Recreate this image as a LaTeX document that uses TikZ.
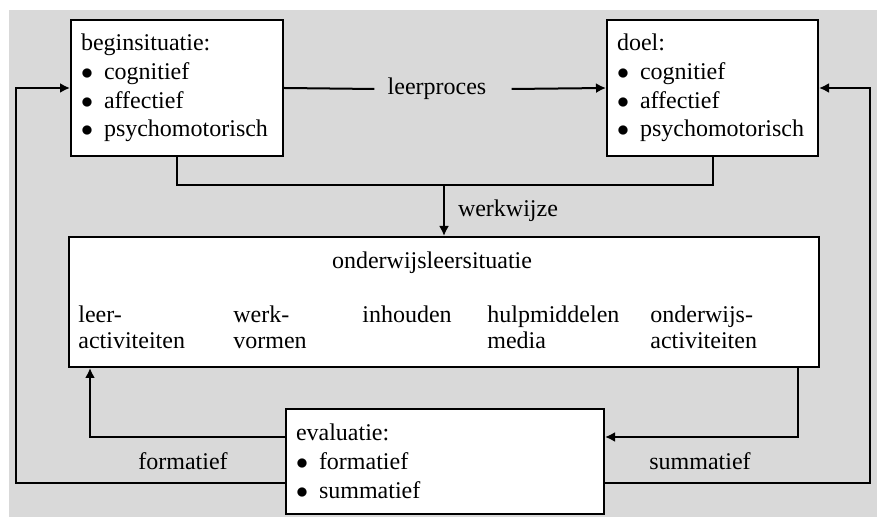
\documentclass[tikz,border=0pt]{standalone}
\usepackage{fontspec}
\setmainfont{Liberation Serif}
\usepackage{xcolor}
\usetikzlibrary{positioning,arrows.meta}
\definecolor{panel}{HTML}{D9D9D9}
\newcommand{\bul}{\makebox[11.5pt][l]{$\bullet$}}

\begin{document}
\begin{tikzpicture}[x=0.5pt, y=-0.5pt,
  box/.style={draw, fill=white, line width=1pt, align=left,
              inner xsep=5pt, inner ysep=0pt,
              font=\fontsize{12}{14.4}\selectfont},
  lbl/.style={inner sep=0pt, font=\fontsize{12}{14.4}\selectfont},
  col/.style={lbl, align=left, anchor=north west,
              font=\fontsize{12}{13}\selectfont},
  wire/.style={line width=1pt},
  arrow/.style={->, >={Latex[length=5pt, width=5pt]}, line width=1pt}
]

% --- background ---
\useasboundingbox (0,0) rectangle (877,517);
\fill[panel] (9,10) rectangle (877,517);

% --- top row ---
\node[box, text width=96pt, minimum height=68pt] (begin) at (177,88)
  {beginsituatie:\\\bul cognitief\\\bul affectief\\\bul psychomotorisch};
\node[box, text width=95.5pt, minimum height=68pt] (doel) at (712.5,88)
  {doel:\\\bul cognitief\\\bul affectief\\\bul psychomotorisch};
\node[lbl] (lp) at (437,89) {leerproces};
\draw[wire] (begin.east) -- ([xshift=-6.5pt]lp.west);
\draw[arrow] ([xshift=12.5pt]lp.east) -- (doel.west);

% --- middle ---
\node[box, minimum width=375pt, minimum height=65pt] (onder) at (444,302) {};
\node[lbl, anchor=base] (ttl) at (432,269) {onderwijsleersituatie};
\node[col] (leer) at (78,305) {leer-\\activiteiten};
\node[col] (werk) at (233,305) {werk-\\vormen};
\node[col] (inh) at (362,305) {inhouden};
\node[col] (hulp) at (487,305) {hulpmiddelen\\media};
\node[col] (ond) at (650,305) {onderwijs-\\activiteiten};

\coordinate (ww) at ([yshift=25.5pt]onder.north);
\draw[wire] (begin.south) |- (ww) -| (doel.south);
\draw[arrow] (ww) -- node[lbl, right=6.5pt] (wwlbl) {werkwijze} (onder.north);

% --- evaluation ---
\node[box, text width=149pt, minimum height=52.5pt] (eval) at (445,461.5)
  {evaluatie:\\\bul formatief\\\bul summatief};
\draw[arrow] ([yshift=12.25pt]eval.west) -| ([xshift=11pt]onder.south west);
\draw[arrow] ([xshift=-11pt]onder.south east) |- ([yshift=12.25pt]eval.east);
\draw[arrow] ([yshift=-10.75pt]eval.west) -| ([xshift=-27pt]begin.west) -- (begin.west);
\draw[arrow] ([yshift=-10.75pt]eval.east) -| ([xshift=25.5pt]doel.east) -- (doel.east);
\node[lbl] (form) at (183,461) {formatief};
\node[lbl] (summ) at (700,461) {summatief};

\end{tikzpicture}
\end{document}
